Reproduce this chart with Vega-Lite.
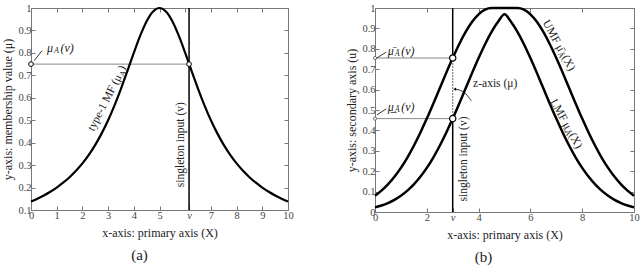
{
  "$schema": "https://vega.github.io/schema/vega-lite/v6.json",
  "padding": {"left": 1, "top": 2, "right": 0, "bottom": 0},
  "spacing": 87,
  "bounds": "flush",
  "config": {
    "font": "Liberation Serif",
    "view": {"stroke": "#777", "strokeWidth": 1},
    "axis": {"grid": false, "domain": false, "tickColor": "#777", "tickSize": -4, "tickCount": 30, "labelFont": "Liberation Serif", "labelFontSize": 10.5, "labelColor": "#444", "titleFont": "Liberation Serif", "titleFontSize": 12, "titleFontWeight": "normal", "titleColor": "#222", "labelPadding": 4, "labelOverlap": false, "labelBound": false, "labelFlush": false},
    "axisX": {"titlePadding": 7},
    "axisY": {"titlePadding": 3},
    "text": {"font": "Liberation Serif", "fontSize": 12, "color": "#222"},
    "title": {"font": "Liberation Serif", "fontSize": 15, "fontWeight": "normal", "color": "#222"}
  },
  "datasets": {
    "mfA": [
      {"x": 0, "y": 0.1379}, {"x": 0.25, "y": 0.1506}, {"x": 0.5, "y": 0.1649}, {"x": 0.75, "y": 0.1813}, {"x": 1, "y": 0.2}, {"x": 1.25, "y": 0.2215}, {"x": 1.5, "y": 0.2462}, {"x": 1.75, "y": 0.2747}, {"x": 2, "y": 0.3077}, {"x": 2.25, "y": 0.3459}, {"x": 2.5, "y": 0.3902}, {"x": 2.75, "y": 0.4414}, {"x": 3, "y": 0.5}, {"x": 3.25, "y": 0.5664}, {"x": 3.5, "y": 0.64}, {"x": 3.75, "y": 0.7191}, {"x": 4, "y": 0.8}, {"x": 4.25, "y": 0.8767}, {"x": 4.5, "y": 0.9412}, {"x": 4.75, "y": 0.9846}, {"x": 5, "y": 1},
      {"x": 5.25, "y": 0.9846}, {"x": 5.5, "y": 0.9412}, {"x": 5.75, "y": 0.8767}, {"x": 6, "y": 0.8}, {"x": 6.25, "y": 0.7191}, {"x": 6.5, "y": 0.64}, {"x": 6.75, "y": 0.5664}, {"x": 7, "y": 0.5}, {"x": 7.25, "y": 0.4414}, {"x": 7.5, "y": 0.3902}, {"x": 7.75, "y": 0.3459}, {"x": 8, "y": 0.3077}, {"x": 8.25, "y": 0.2747}, {"x": 8.5, "y": 0.2462}, {"x": 8.75, "y": 0.2215}, {"x": 9, "y": 0.2}, {"x": 9.25, "y": 0.1813}, {"x": 9.5, "y": 0.1649}, {"x": 9.75, "y": 0.1506}, {"x": 10, "y": 0.1379}
    ],
    "umf": [
      {"x": 0, "y": 0.0796}, {"x": 0.25, "y": 0.1046}, {"x": 0.5, "y": 0.1353}, {"x": 0.75, "y": 0.1724}, {"x": 1, "y": 0.2163}, {"x": 1.25, "y": 0.2671}, {"x": 1.5, "y": 0.3247}, {"x": 1.75, "y": 0.3886}, {"x": 2, "y": 0.4578}, {"x": 2.25, "y": 0.5311}, {"x": 2.5, "y": 0.6065}, {"x": 2.75, "y": 0.682}, {"x": 3, "y": 0.7548}, {"x": 3.25, "y": 0.8226}, {"x": 3.5, "y": 0.8825}, {"x": 3.75, "y": 0.9321}, {"x": 4, "y": 0.9692}, {"x": 4.25, "y": 0.9922}, {"x": 4.5, "y": 1}, {"x": 4.75, "y": 1}, {"x": 5, "y": 1},
      {"x": 5.25, "y": 1}, {"x": 5.5, "y": 1}, {"x": 5.75, "y": 0.9922}, {"x": 6, "y": 0.9692}, {"x": 6.25, "y": 0.9321}, {"x": 6.5, "y": 0.8825}, {"x": 6.75, "y": 0.8226}, {"x": 7, "y": 0.7548}, {"x": 7.25, "y": 0.682}, {"x": 7.5, "y": 0.6065}, {"x": 7.75, "y": 0.5311}, {"x": 8, "y": 0.4578}, {"x": 8.25, "y": 0.3886}, {"x": 8.5, "y": 0.3247}, {"x": 8.75, "y": 0.2671}, {"x": 9, "y": 0.2163}, {"x": 9.25, "y": 0.1724}, {"x": 9.5, "y": 0.1353}, {"x": 9.75, "y": 0.1046}, {"x": 10, "y": 0.0796}
    ],
    "lmf": [
      {"x": 0, "y": 0.0228}, {"x": 0.25, "y": 0.0319}, {"x": 0.5, "y": 0.0439}, {"x": 0.75, "y": 0.0596}, {"x": 1, "y": 0.0796}, {"x": 1.25, "y": 0.1046}, {"x": 1.5, "y": 0.1353}, {"x": 1.75, "y": 0.1724}, {"x": 2, "y": 0.2163}, {"x": 2.25, "y": 0.2671}, {"x": 2.5, "y": 0.3247}, {"x": 2.75, "y": 0.3886}, {"x": 3, "y": 0.4578}, {"x": 3.25, "y": 0.5311}, {"x": 3.5, "y": 0.6065}, {"x": 3.75, "y": 0.682}, {"x": 4, "y": 0.7548}, {"x": 4.25, "y": 0.8226}, {"x": 4.5, "y": 0.8825}, {"x": 4.75, "y": 0.9321}, {"x": 5, "y": 0.9692},
      {"x": 5.25, "y": 0.9321}, {"x": 5.5, "y": 0.8825}, {"x": 5.75, "y": 0.8226}, {"x": 6, "y": 0.7548}, {"x": 6.25, "y": 0.682}, {"x": 6.5, "y": 0.6065}, {"x": 6.75, "y": 0.5311}, {"x": 7, "y": 0.4578}, {"x": 7.25, "y": 0.3886}, {"x": 7.5, "y": 0.3247}, {"x": 7.75, "y": 0.2671}, {"x": 8, "y": 0.2163}, {"x": 8.25, "y": 0.1724}, {"x": 8.5, "y": 0.1353}, {"x": 8.75, "y": 0.1046}, {"x": 9, "y": 0.0796}, {"x": 9.25, "y": 0.0596}, {"x": 9.5, "y": 0.0439}, {"x": 9.75, "y": 0.0319}, {"x": 10, "y": 0.0228}
    ],
    "hA": [{"x": 0, "x2": 6.15, "y": 0.75}],
    "vA": [{"x": 6.15}],
    "ptA": [{"x": 0, "y": 0.75}, {"x": 6.15, "y": 0.75}],
    "labA": [{"x": 0.62, "y": 0.82, "t1": "μ", "t2": "A", "t3": "(v)"}],
    "arA": [{"x": 0.43, "y": 0.81, "x2": 0.12, "y2": 0.765}],
    "tyA": [{"x": 3.43, "y": 0.7, "t1": "type-1 MF (μ", "t2": "A", "t3": ")"}],
    "sA": [{"x": 5.84, "y": 0.391, "t": "singleton input (v)"}],
    "hB": [{"x": 0, "x2": 3, "y": 0.7548}, {"x": 0, "x2": 3, "y": 0.4578}],
    "vBsolid": [{"x": 3, "y": 0.7548, "y2": 1}, {"x": 3, "y": 0, "y2": 0.4578}],
    "vBdot": [{"x": 3, "y": 0.4578, "y2": 0.7548}],
    "ptBbig": [{"x": 3, "y": 0.7548}, {"x": 3, "y": 0.4578}],
    "ptBsmall": [{"x": 0, "y": 0.7548}, {"x": 0, "y": 0.4578}],
    "labB": [{"x": 0.49, "y": 0.791, "t1": "μ̄", "t2": "Ã", "t3": "(v)"}, {"x": 0.49, "y": 0.516, "t1": "μ̲", "t2": "Ã", "t3": "(v)"}],
    "arB": [{"x": 0.44, "y": 0.784, "x2": 0.07, "y2": 0.755}, {"x": 0.44, "y": 0.506, "x2": 0.07, "y2": 0.476}],
    "zB": [{"x": 4.64, "y": 0.629, "t": "z-axis (μ)"}],
    "zArc": [{"x": 3.72, "y": 0.545, "o": 1}, {"x": 3.49, "y": 0.585, "o": 2}, {"x": 3.25, "y": 0.6, "o": 3}, {"x": 3.06, "y": 0.602, "o": 4}],
    "zHead": [{"x": 3.08, "y": 0.602}],
    "umfB": [{"x": 7.2, "y": 0.79, "t1": "UMF μ̄", "t2": "Ã", "t3": "(X)"}],
    "lmfB": [{"x": 7.47, "y": 0.409, "t1": "LMF μ̲", "t2": "Ã", "t3": "(X)"}],
    "sB": [{"x": 3.45, "y": 0.26, "t": "singleton input (v)"}]
  },
  "hconcat": [
    {
      "width": 257,
      "height": 202,
      "title": {"text": "(a)", "orient": "bottom", "offset": 9, "dx": -20},
      "resolve": {"axis": {"x": "independent", "y": "independent"}},
      "layer": [
        {
          "layer": [
            {
              "data": {"name": "hA"},
              "mark": {"type": "rule", "color": "#888", "strokeWidth": 1},
              "encoding": {
                "x": {"field": "x", "type": "quantitative", "scale": {"domain": [0, 10], "nice": false}, "title": "x-axis: primary axis (X)",
                  "axis": {"values": [0, 1, 2, 3, 4, 5, 6.15, 7, 8, 9, 10], "tickCount": 30, "format": "~g", "labelOverlap": false, "labelExpr": "datum.value == 6.15 ? 'v' : datum.label", "labelFontStyle": {"condition": {"test": "datum.value == 6.15", "value": "italic"}, "value": "normal"}}},
                "x2": {"field": "x2"},
                "y": {"field": "y", "type": "quantitative", "scale": {"domain": [0.1, 1], "nice": false, "zero": false}, "title": "y-axis: membership value (μ)",
                  "axis": {"values": [0.1, 0.2, 0.3, 0.4, 0.5, 0.6, 0.7, 0.8, 0.9, 1], "tickCount": 30, "labelOverlap": false, "format": ".1~f"}}
              }
            },
            {
              "data": {"name": "vA"},
              "mark": {"type": "rule", "color": "#000", "strokeWidth": 1.5},
              "encoding": {"x": {"field": "x", "type": "quantitative"}}
            },
            {
              "data": {"name": "mfA"},
              "mark": {"type": "line", "color": "#000", "strokeWidth": 2.2, "interpolate": "monotone"},
              "encoding": {"x": {"field": "x", "type": "quantitative"}, "y": {"field": "y", "type": "quantitative"}}
            },
            {
              "data": {"name": "ptA"},
              "mark": {"type": "point", "shape": "circle", "fill": "#fff", "fillOpacity": 1, "stroke": "#000", "strokeWidth": 1, "size": 22, "opacity": 1},
              "encoding": {"x": {"field": "x", "type": "quantitative"}, "y": {"field": "y", "type": "quantitative"}}
            },
            {
              "data": {"name": "arA"},
              "mark": {"type": "rule", "color": "#000", "strokeWidth": 0.8},
              "encoding": {"x": {"field": "x", "type": "quantitative"}, "y": {"field": "y", "type": "quantitative"}, "x2": {"field": "x2"}, "y2": {"field": "y2"}}
            },
            {
              "data": {"name": "labA"},
              "mark": {"type": "text", "align": "left", "baseline": "middle", "fontSize": 12, "fontStyle": "italic"},
              "encoding": {"x": {"field": "x", "type": "quantitative"}, "y": {"field": "y", "type": "quantitative"}, "text": {"field": "t1"}}
            },
            {
              "data": {"name": "labA"},
              "mark": {"type": "text", "align": "left", "baseline": "middle", "fontSize": 8, "fontStyle": "italic", "dx": 7, "dy": 3},
              "encoding": {"x": {"field": "x", "type": "quantitative"}, "y": {"field": "y", "type": "quantitative"}, "text": {"field": "t2"}}
            },
            {
              "data": {"name": "labA"},
              "mark": {"type": "text", "align": "left", "baseline": "middle", "fontSize": 12, "fontStyle": "italic", "dx": 13.5},
              "encoding": {"x": {"field": "x", "type": "quantitative"}, "y": {"field": "y", "type": "quantitative"}, "text": {"field": "t3"}}
            },
            {
              "data": {"name": "tyA"},
              "mark": {"type": "text", "align": "right", "baseline": "middle", "fontSize": 11.5, "angle": 297},
              "encoding": {"x": {"field": "x", "type": "quantitative"}, "y": {"field": "y", "type": "quantitative"}, "text": {"field": "t1"}}
            },
            {
              "data": {"name": "tyA"},
              "mark": {"type": "text", "align": "left", "baseline": "middle", "fontSize": 8, "angle": 297, "dx": 0.5, "dy": 3},
              "encoding": {"x": {"field": "x", "type": "quantitative"}, "y": {"field": "y", "type": "quantitative"}, "text": {"field": "t2"}}
            },
            {
              "data": {"name": "tyA"},
              "mark": {"type": "text", "align": "left", "baseline": "middle", "fontSize": 11.5, "angle": 297, "dx": 6},
              "encoding": {"x": {"field": "x", "type": "quantitative"}, "y": {"field": "y", "type": "quantitative"}, "text": {"field": "t3"}}
            },
            {
              "data": {"name": "sA"},
              "mark": {"type": "text", "align": "center", "baseline": "middle", "fontSize": 11.5, "angle": 270},
              "encoding": {"x": {"field": "x", "type": "quantitative"}, "y": {"field": "y", "type": "quantitative"}, "text": {"field": "t"}}
            }
          ]
        },
        {
          "data": {"name": "mfA"},
          "mark": {"type": "line", "opacity": 0},
          "encoding": {
            "x": {"field": "x", "type": "quantitative", "axis": {"orient": "top", "values": [0, 1, 2, 3, 4, 5, 6, 7, 8, 9, 10], "tickCount": 30, "labels": false, "title": null}},
            "y": {"field": "y", "type": "quantitative", "axis": {"orient": "right", "values": [0.1, 0.2, 0.3, 0.4, 0.5, 0.6, 0.7, 0.8, 0.9, 1], "tickCount": 30, "labels": false, "title": null}}
          }
        }
      ]
    },
    {
      "width": 259,
      "height": 204,
      "title": {"text": "(b)", "orient": "bottom", "offset": 9, "dx": -21},
      "resolve": {"axis": {"x": "independent", "y": "independent"}},
      "layer": [
        {
          "layer": [
            {
              "data": {"name": "hB"},
              "mark": {"type": "rule", "color": "#888", "strokeWidth": 1},
              "encoding": {
                "x": {"field": "x", "type": "quantitative", "scale": {"domain": [0, 10], "nice": false}, "title": "x-axis: primary axis (X)",
                  "axis": {"values": [0, 2, 3, 4, 6, 8, 10], "tickCount": 30, "format": "~g", "labelOverlap": false, "labelExpr": "datum.value == 3 ? 'v' : datum.label", "labelFontStyle": {"condition": {"test": "datum.value == 3", "value": "italic"}, "value": "normal"}}},
                "x2": {"field": "x2"},
                "y": {"field": "y", "type": "quantitative", "scale": {"domain": [0, 1], "nice": false}, "title": "y-axis: secondary axis (u)",
                  "axis": {"values": [0, 0.1, 0.2, 0.3, 0.4, 0.5, 0.6, 0.7, 0.8, 0.9, 1], "tickCount": 30, "labelOverlap": false, "format": ".1~f"}}
              }
            },
            {
              "data": {"name": "vBsolid"},
              "mark": {"type": "rule", "color": "#000", "strokeWidth": 1.5},
              "encoding": {"x": {"field": "x", "type": "quantitative"}, "y": {"field": "y", "type": "quantitative"}, "y2": {"field": "y2"}}
            },
            {
              "data": {"name": "vBdot"},
              "mark": {"type": "rule", "color": "#000", "strokeWidth": 1.2, "strokeDash": [1, 2]},
              "encoding": {"x": {"field": "x", "type": "quantitative"}, "y": {"field": "y", "type": "quantitative"}, "y2": {"field": "y2"}}
            },
            {
              "data": {"name": "umf"},
              "mark": {"type": "line", "color": "#000", "strokeWidth": 2.5, "interpolate": "monotone"},
              "encoding": {"x": {"field": "x", "type": "quantitative"}, "y": {"field": "y", "type": "quantitative"}}
            },
            {
              "data": {"name": "lmf"},
              "mark": {"type": "line", "color": "#000", "strokeWidth": 2.5, "interpolate": "monotone"},
              "encoding": {"x": {"field": "x", "type": "quantitative"}, "y": {"field": "y", "type": "quantitative"}}
            },
            {
              "data": {"name": "ptBbig"},
              "mark": {"type": "point", "shape": "circle", "fill": "#fff", "fillOpacity": 1, "stroke": "#000", "strokeWidth": 1.2, "size": 40, "opacity": 1},
              "encoding": {"x": {"field": "x", "type": "quantitative"}, "y": {"field": "y", "type": "quantitative"}}
            },
            {
              "data": {"name": "ptBsmall"},
              "mark": {"type": "point", "shape": "circle", "fill": "#fff", "fillOpacity": 1, "stroke": "#555", "strokeWidth": 0.8, "size": 10, "opacity": 1},
              "encoding": {"x": {"field": "x", "type": "quantitative"}, "y": {"field": "y", "type": "quantitative"}}
            },
            {
              "data": {"name": "arB"},
              "mark": {"type": "rule", "color": "#000", "strokeWidth": 0.8},
              "encoding": {"x": {"field": "x", "type": "quantitative"}, "y": {"field": "y", "type": "quantitative"}, "x2": {"field": "x2"}, "y2": {"field": "y2"}}
            },
            {
              "data": {"name": "labB"},
              "mark": {"type": "text", "align": "left", "baseline": "middle", "fontSize": 12, "fontStyle": "italic"},
              "encoding": {"x": {"field": "x", "type": "quantitative"}, "y": {"field": "y", "type": "quantitative"}, "text": {"field": "t1"}}
            },
            {
              "data": {"name": "labB"},
              "mark": {"type": "text", "align": "left", "baseline": "middle", "fontSize": 8, "fontStyle": "italic", "dx": 7, "dy": 3},
              "encoding": {"x": {"field": "x", "type": "quantitative"}, "y": {"field": "y", "type": "quantitative"}, "text": {"field": "t2"}}
            },
            {
              "data": {"name": "labB"},
              "mark": {"type": "text", "align": "left", "baseline": "middle", "fontSize": 12, "fontStyle": "italic", "dx": 13.5},
              "encoding": {"x": {"field": "x", "type": "quantitative"}, "y": {"field": "y", "type": "quantitative"}, "text": {"field": "t3"}}
            },
            {
              "data": {"name": "zB"},
              "mark": {"type": "text", "align": "center", "baseline": "middle", "fontSize": 11.5},
              "encoding": {"x": {"field": "x", "type": "quantitative"}, "y": {"field": "y", "type": "quantitative"}, "text": {"field": "t"}}
            },
            {
              "data": {"name": "zArc"},
              "mark": {"type": "line", "color": "#000", "strokeWidth": 0.8, "interpolate": "basis"},
              "encoding": {"x": {"field": "x", "type": "quantitative"}, "y": {"field": "y", "type": "quantitative"}, "order": {"field": "o"}}
            },
            {
              "data": {"name": "zHead"},
              "mark": {"type": "point", "shape": "triangle-left", "filled": true, "color": "#000", "size": 10, "opacity": 1},
              "encoding": {"x": {"field": "x", "type": "quantitative"}, "y": {"field": "y", "type": "quantitative"}}
            },
            {
              "data": {"name": "umfB"},
              "mark": {"type": "text", "align": "right", "baseline": "middle", "fontSize": 11.5, "angle": 61},
              "encoding": {"x": {"field": "x", "type": "quantitative"}, "y": {"field": "y", "type": "quantitative"}, "text": {"field": "t1"}}
            },
            {
              "data": {"name": "umfB"},
              "mark": {"type": "text", "align": "left", "baseline": "middle", "fontSize": 8, "angle": 61, "dx": 0.5, "dy": 3},
              "encoding": {"x": {"field": "x", "type": "quantitative"}, "y": {"field": "y", "type": "quantitative"}, "text": {"field": "t2"}}
            },
            {
              "data": {"name": "umfB"},
              "mark": {"type": "text", "align": "left", "baseline": "middle", "fontSize": 11.5, "angle": 61, "dx": 6},
              "encoding": {"x": {"field": "x", "type": "quantitative"}, "y": {"field": "y", "type": "quantitative"}, "text": {"field": "t3"}}
            },
            {
              "data": {"name": "lmfB"},
              "mark": {"type": "text", "align": "right", "baseline": "middle", "fontSize": 11.5, "angle": 61},
              "encoding": {"x": {"field": "x", "type": "quantitative"}, "y": {"field": "y", "type": "quantitative"}, "text": {"field": "t1"}}
            },
            {
              "data": {"name": "lmfB"},
              "mark": {"type": "text", "align": "left", "baseline": "middle", "fontSize": 8, "angle": 61, "dx": 0.5, "dy": 3},
              "encoding": {"x": {"field": "x", "type": "quantitative"}, "y": {"field": "y", "type": "quantitative"}, "text": {"field": "t2"}}
            },
            {
              "data": {"name": "lmfB"},
              "mark": {"type": "text", "align": "left", "baseline": "middle", "fontSize": 11.5, "angle": 61, "dx": 6},
              "encoding": {"x": {"field": "x", "type": "quantitative"}, "y": {"field": "y", "type": "quantitative"}, "text": {"field": "t3"}}
            },
            {
              "data": {"name": "sB"},
              "mark": {"type": "text", "align": "center", "baseline": "middle", "fontSize": 11.5, "angle": 270},
              "encoding": {"x": {"field": "x", "type": "quantitative"}, "y": {"field": "y", "type": "quantitative"}, "text": {"field": "t"}}
            }
          ]
        },
        {
          "data": {"name": "umf"},
          "mark": {"type": "line", "opacity": 0},
          "encoding": {
            "x": {"field": "x", "type": "quantitative", "axis": {"orient": "top", "values": [0, 2, 4, 6, 8, 10], "tickCount": 30, "labels": false, "title": null}},
            "y": {"field": "y", "type": "quantitative", "axis": {"orient": "right", "values": [0, 0.1, 0.2, 0.3, 0.4, 0.5, 0.6, 0.7, 0.8, 0.9, 1], "tickCount": 30, "labels": false, "title": null}}
          }
        }
      ]
    }
  ]
}
